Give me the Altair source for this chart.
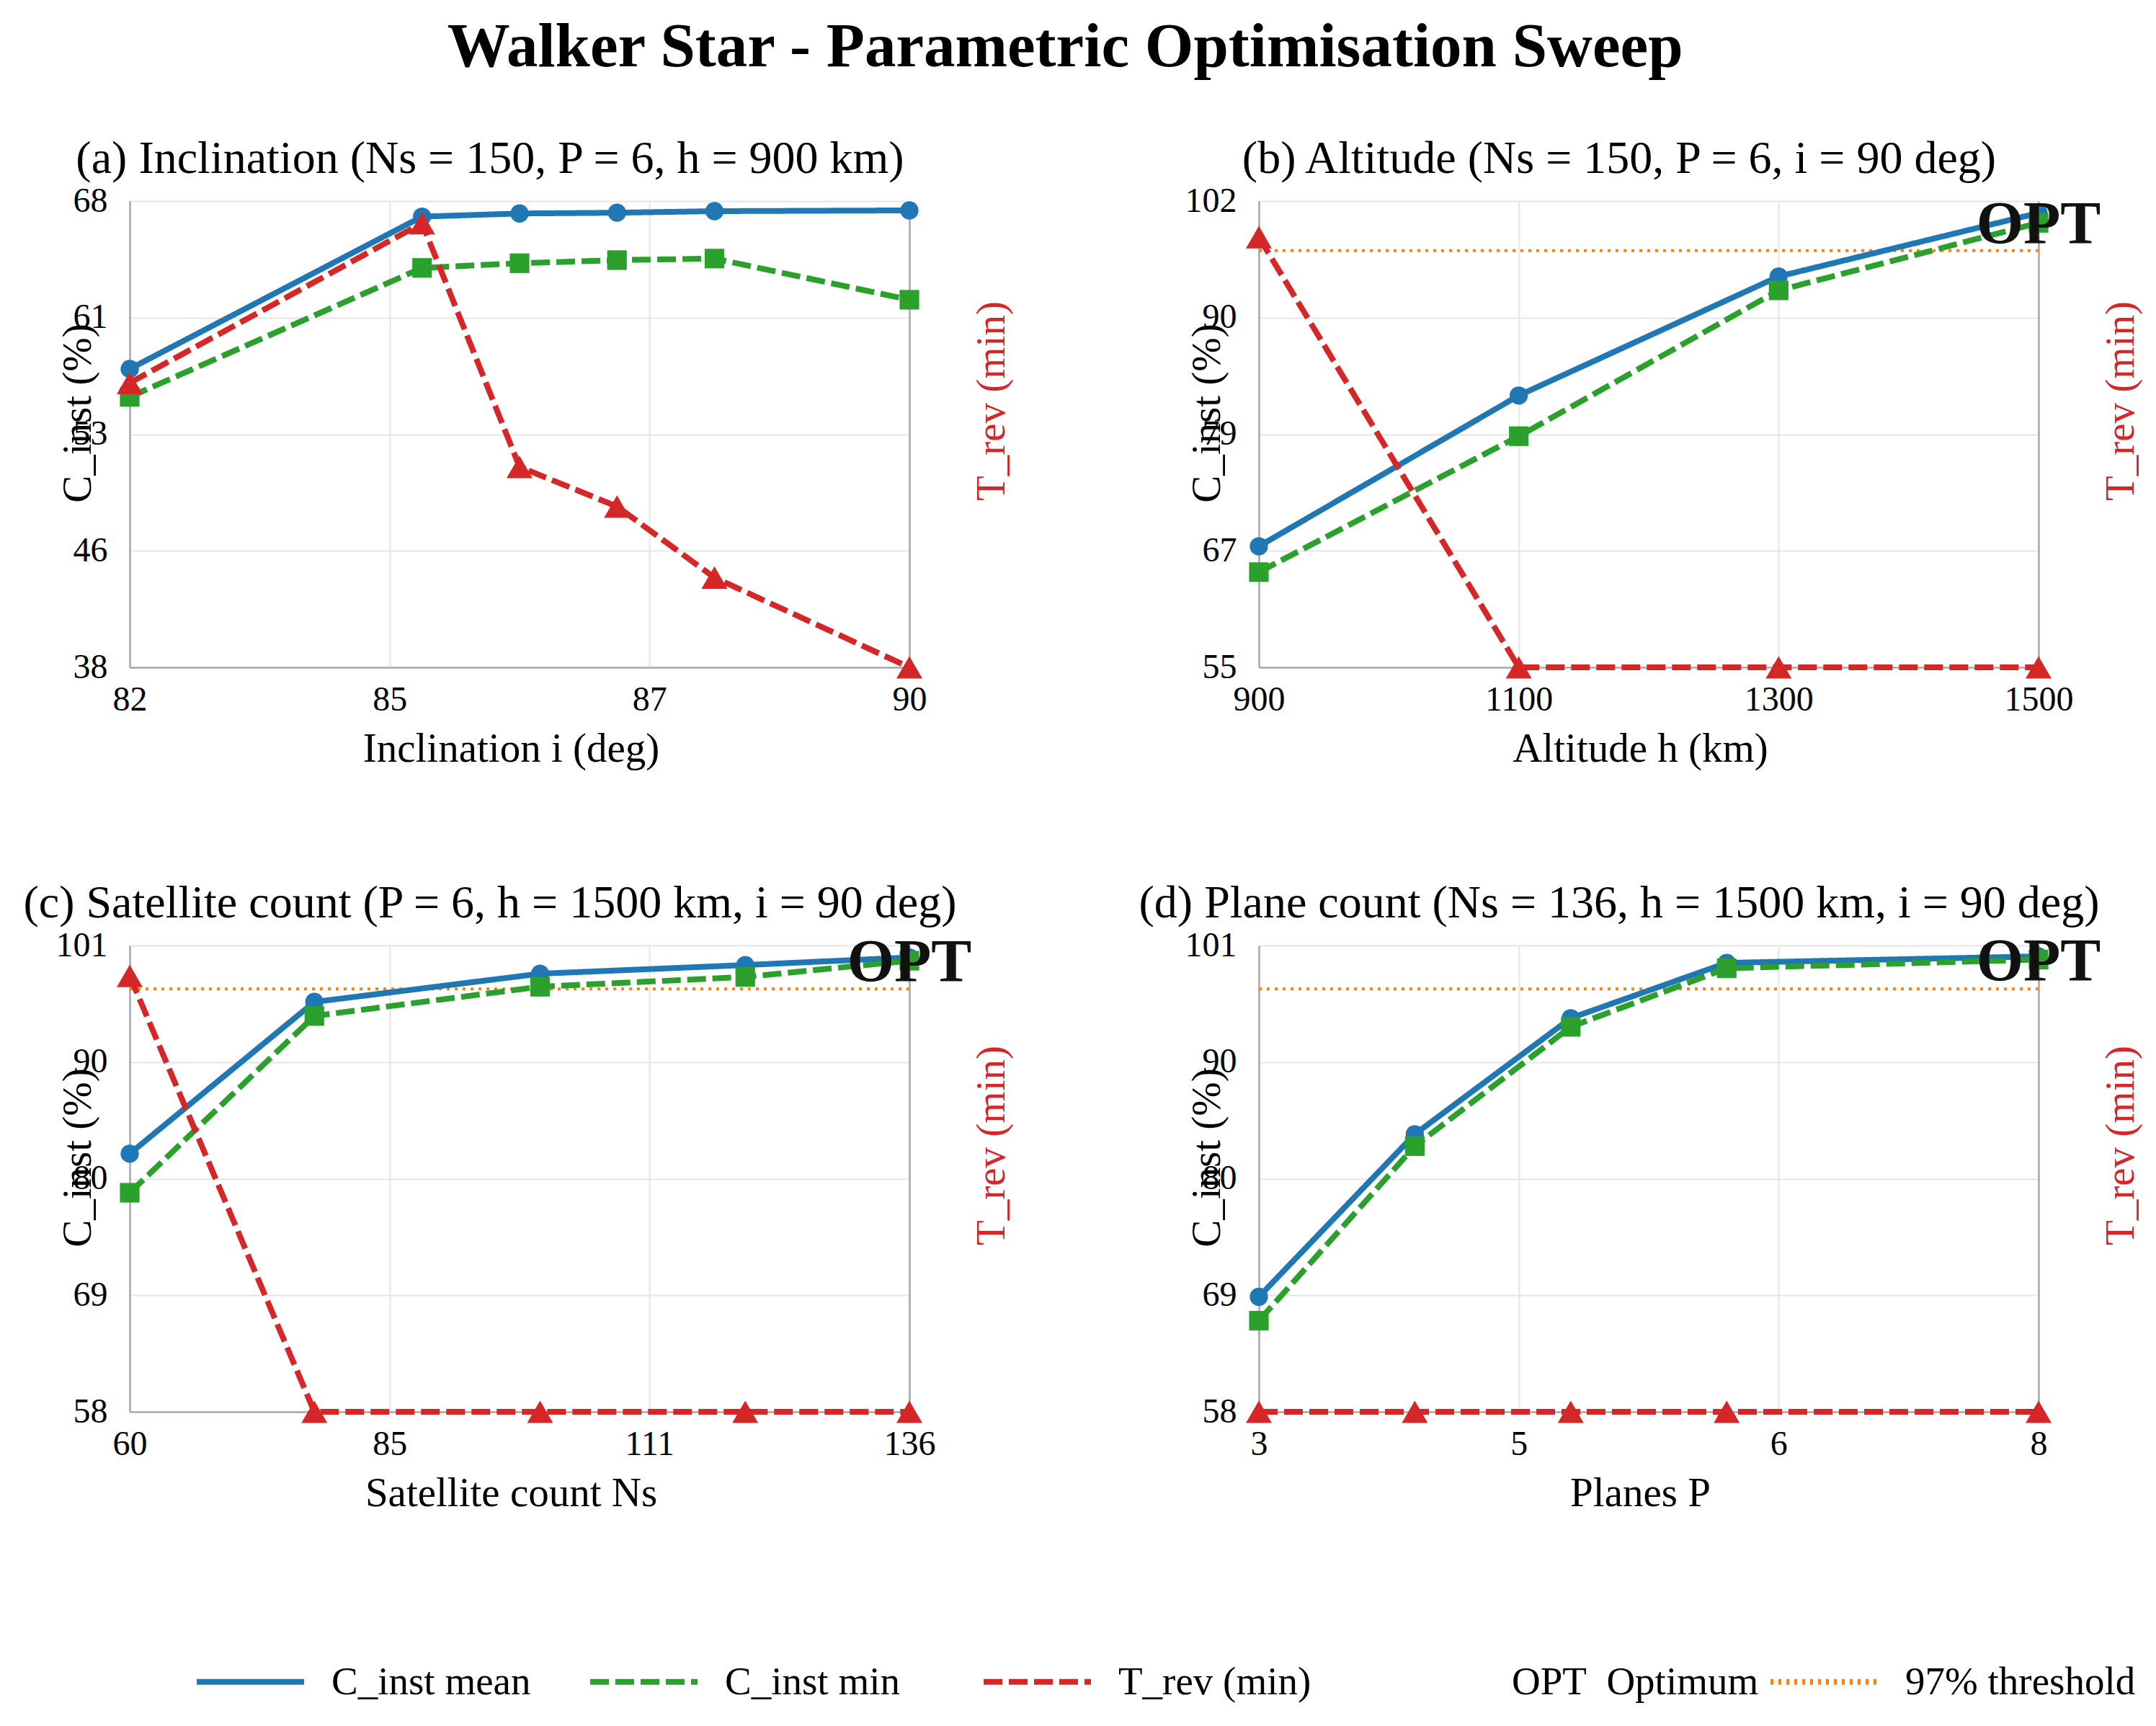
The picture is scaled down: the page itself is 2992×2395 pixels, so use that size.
import altair as alt
import numpy as np
import pandas as pd

FONT = "Liberation Serif"
BLUE = "#1f77b4"
GREEN = "#2ca02c"
RED = "#d62728"
ORANGE = "#ff7f0e"

# ---- sweep results ----
# (a) inclination sweep
inc_deg = [82, 85, 86, 87, 88, 90]
inc_mean = [57.2, 67.0, 67.2, 67.25, 67.35, 67.4]
inc_min = [55.4, 63.7, 64.0, 64.2, 64.3, 61.65]
inc_trev = [24.4, 38.1, 17.2, 13.8, 7.7, 0.0]

# (b) altitude sweep
alt_km = [900, 1100, 1300, 1500]
alt_mean = [67.2, 82.4, 94.4, 100.8]
alt_min = [64.6, 78.3, 93.0, 99.8]
alt_trev = [36.9, 0.0, 0.0, 0.0]

# (c) satellite count sweep
ns_count = [60, 78, 100, 120, 136]
ns_mean = [81.8, 95.8, 98.4, 99.2, 99.9]
ns_min = [78.2, 94.5, 97.2, 98.1, 99.6]
ns_trev = [37.4, 0.0, 0.0, 0.0, 0.0]

# (d) plane count sweep
planes = [3, 4, 5, 6, 8]
pl_mean = [68.6, 83.6, 94.3, 99.4, 100.0]
pl_min = [66.4, 82.5, 93.5, 98.9, 99.7]
pl_trev = [0.0, 0.0, 0.0, 0.0, 0.0]

THRESHOLD = 97.0

SERIES = ["C_inst mean", "C_inst min", "T_rev (min)", "Optimum", "97% threshold"]
SERIES_COLORS = [BLUE, GREEN, RED, "rgba(0,0,0,0)", ORANGE]
SERIES_DASH = [[1, 0], [26, 9], [26, 9], [1, 0], [4, 7]]

PANEL_W = 1082
PANEL_H = 647

color_scale = alt.Scale(domain=SERIES, range=SERIES_COLORS)
dash_scale = alt.Scale(domain=SERIES, range=SERIES_DASH)

legend = alt.Legend(
    title=None,
    orient="none",
    legendX=93,
    legendY=2027,
    direction="horizontal",
    symbolType="M-2,0H8.836",
    symbolSize=756.25,
    symbolStrokeWidth=8,
    labelOffset=132,
    labelFont=FONT,
    labelFontSize=55,
    labelColor="black",
    labelLimit=0,
    columnPadding=0,
    gridAlign="all",
    padding=0,
    labelExpr="datum.label == 'Optimum' ? 'OPT\u00a0\u00a0Optimum' : datum.label",
)


def series_enc():
    return dict(
        color=alt.Color("series:N", scale=color_scale, legend=legend),
        strokeDash=alt.StrokeDash("series:N", scale=dash_scale, legend=legend),
    )


def panel(title, xlab, xs, mean, cmin, trev, xdom, ydom, tdom, opt_idx, show_thr):
    xticks = [float(v) for v in np.linspace(xdom[0], xdom[1], 4)]
    yticks = [float(v) for v in np.linspace(ydom[0], ydom[1], 5)]

    x_enc = alt.X(
        "x:Q",
        scale=alt.Scale(domain=xdom, nice=False, zero=False),
        axis=alt.Axis(values=xticks, format=".0f", title=xlab, grid=True,
                      titleX=529, titleY=113, titleBaseline="middle",
                      labelPadding=21),
    )
    yscale = alt.Scale(domain=ydom, nice=False, zero=False)
    yaxis = alt.Axis(values=yticks, format=".0f", title="C_inst (%)", orient="left",
                     grid=True, titleX=-72, titleY=294, titleBaseline="middle",
                     titleAngle=270, labelPadding=31)

    df_mean = pd.DataFrame({"x": xs, "v": mean, "series": "C_inst mean"})
    df_min = pd.DataFrame({"x": xs, "v": cmin, "series": "C_inst min"})
    df_rev = pd.DataFrame({"x": xs, "v": trev, "series": "T_rev (min)"})

    def yq():
        return alt.Y("v:Q", scale=yscale, axis=yaxis)

    primary = []
    if show_thr:
        df_thr = pd.DataFrame({"v": [THRESHOLD], "series": ["97% threshold"]})
        primary.append(alt.Chart(df_thr).mark_rule(strokeWidth=4).encode(y=yq(), **series_enc()))
    primary += [
        alt.Chart(df_mean).mark_line(strokeWidth=8, strokeJoin="round").encode(x=x_enc, y=yq(), **series_enc()),
        alt.Chart(df_mean).mark_point(shape="circle", filled=True, size=640, opacity=1, color=BLUE).encode(x=x_enc, y=yq()),
        alt.Chart(df_min).mark_line(strokeWidth=8, strokeJoin="round").encode(x=x_enc, y=yq(), **series_enc()),
        alt.Chart(df_min).mark_point(shape="square", filled=True, size=740, opacity=1, color=GREEN).encode(x=x_enc, y=yq()),
    ]
    layer_c = alt.layer(*primary)

    tscale = alt.Scale(domain=tdom, nice=False, zero=False)
    taxis = alt.Axis(orient="right", labels=False, ticks=False, grid=False, domain=True,
                     title="T_rev (min)", titleColor=RED, titleAngle=270,
                     titleX=114, titleY=277, titleBaseline="middle")
    layer_t = alt.layer(
        alt.Chart(df_rev).mark_line(strokeWidth=8, strokeJoin="round").encode(
            x=x_enc, y=alt.Y("v:Q", scale=tscale, axis=taxis), **series_enc()),
        alt.Chart(df_rev).mark_point(shape="triangle-up", filled=True, size=1300, opacity=1, color=RED).encode(
            x=x_enc, y=alt.Y("v:Q", scale=tscale, axis=taxis)),
    )

    layers = [layer_c, layer_t]
    if opt_idx is not None:
        # the optimum marker sits on the chosen configuration's worst-case coverage
        df_opt = pd.DataFrame({"x": [xs[opt_idx]], "v": [cmin[opt_idx]]})
        layers.append(
            alt.Chart(df_opt).mark_text(text="OPT", font=FONT, fontSize=84, fontWeight="bold",
                                        color="#111111", align="center", baseline="middle", dy=4).encode(
                x=x_enc, y=alt.Y("v:Q", scale=alt.Scale(domain=ydom, nice=False, zero=False), axis=None))
        )

    return alt.layer(*layers).resolve_scale(y="independent").properties(
        width=PANEL_W,
        height=PANEL_H,
        title=alt.TitleParams(text=title, font=FONT, fontSize=64, fontWeight="normal",
                              color="black", anchor="middle", dx=-41, offset=-49,
                              baseline="alphabetic"),
    )


pa = panel("(a) Inclination (Ns = 150, P = 6, h = 900 km)", "Inclination i (deg)",
           inc_deg, inc_mean, inc_min, inc_trev, [82, 90], [38, 68], [0, 40], None, False)
pb = panel("(b) Altitude (Ns = 150, P = 6, i = 90 deg)", "Altitude h (km)",
           alt_km, alt_mean, alt_min, alt_trev, [900, 1500], [55, 102], [0, 40], 3, True)
pc = panel("(c) Satellite count (P = 6, h = 1500 km, i = 90 deg)", "Satellite count Ns",
           ns_count, ns_mean, ns_min, ns_trev, [60, 136], [58, 101], [0, 40], 4, True)
pd_ = panel("(d) Plane count (Ns = 136, h = 1500 km, i = 90 deg)", "Planes P",
            planes, pl_mean, pl_min, pl_trev, [3, 8], [58, 101], [0, 40], 4, True)

chart = alt.concat(
    pa, pb, pc, pd_, columns=2, spacing={"row": 386, "column": 485}, bounds="flush"
).properties(
    title=alt.TitleParams(text="Walker Star - Parametric Optimisation Sweep", font=FONT,
                          fontSize=87, fontWeight="bold", color="black", anchor="middle",
                          dx=-23, offset=79),
    padding={"left": 31, "top": 22, "right": 5, "bottom": 5},
    autosize=alt.AutoSizeParams(type="pad"),
).configure(font=FONT).configure_axis(
    labelFont=FONT, labelFontSize=48, labelColor="black",
    titleFont=FONT, titleFontSize=57, titleFontWeight="normal", titleColor="black",
    domainColor="#a8a8a8", domainWidth=2.5,
    gridColor="#e5e5e5", gridWidth=2,
    ticks=False, tickSize=0, labelFlush=False, labelOverlap=False,
).configure_view(stroke=None)

chart.save("out.html", embed_options={"renderer": "svg", "actions": False})
